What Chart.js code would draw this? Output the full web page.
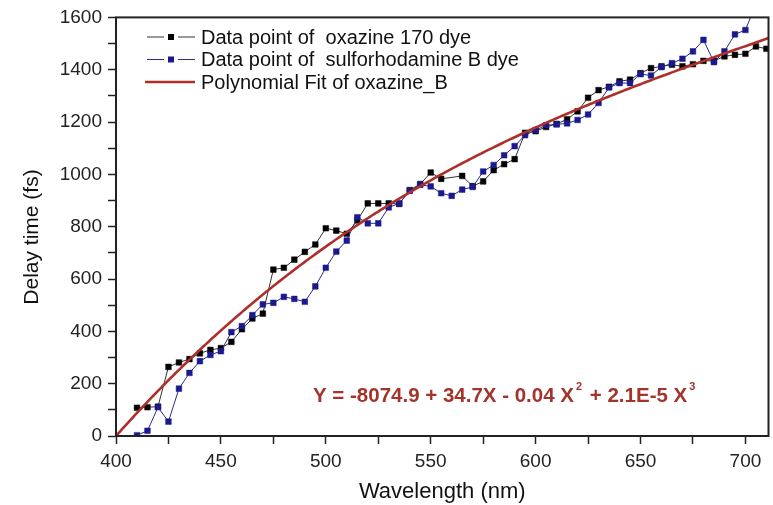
<!DOCTYPE html>
<html>
<head>
<meta charset="utf-8">
<script src="https://cdn.jsdelivr.net/npm/chart.js@4.4.0/dist/chart.umd.min.js"></script>
<style>
  html, body { margin: 0; padding: 0; background: #fff; }
  #wrap { width: 773px; height: 505px; }
</style>
</head>
<body>
<div id="wrap"><canvas id="delayChart" width="773" height="505"></canvas></div>
<script>
/* delay time vs wavelength for the two dyes + cubic fit */

const wavelengths = [
  410, 415, 420, 425, 430, 435, 440, 445, 450, 455,
  460, 465, 470, 475, 480, 485, 490, 495, 500, 505,
  510, 515, 520, 525, 530, 535, 540, 545, 550, 555,
  560, 565, 570, 575, 580, 585, 590, 595, 600, 605,
  610, 615, 620, 625, 630, 635, 640, 645, 650, 655,
  660, 665, 670, 675, 680, 685, 690, 695, 700, 705,
  710
];

// oxazine 170 (black)
const oxazineDelay = [
  108, 110, 112, 264, 281, 294, 316, 329, 336, 360,
  408, 449, 468, 636, 643, 674, 704, 732, 794, 785,
  773, 824, 889, 889, 889, 887, 940, 963, 1007, 983,
  null, 994, 955, 973, 1016, 1039, 1058, 1159, 1165, 1181,
  1193, 1210, 1241, 1293, 1322, 1335, 1356, 1362, 1387, 1406,
  1413, 1419, 1413, 1421, 1434, 1434, 1451, 1457, 1461, 1489,
  1480
];

// sulforhodamine B (blue)
const sulfoDelay = [
  3, 20, 110, 55, 181, 241, 286, 310, 324, 397,
  420, 462, 503, 509, 532, 524, 513, 572, 643, 705,
  747, 836, 813, 813, 874, 889, 937, 960, 954, 928,
  918, 942, 952, 1011, 1036, 1073, 1108, 1150, 1169, 1188,
  1191, 1195, 1208, 1229, 1273, 1332, 1349, 1349, 1383, 1378,
  1410, 1425, 1442, 1470, 1514, 1429, 1470, 1535, 1552, 1650,
  null
];

// Y = a + bX + cX^2 + dX^3
const fitCoefs = [-8074.9, 34.7, -0.04459, 2.077e-5];
const fitRange = [400, 711];

const xTicks = [400, 450, 500, 550, 600, 650, 700];
const yTicks = [0, 200, 400, 600, 800, 1000, 1200, 1400, 1600];

const legendLabels = [
  'Data point of  oxazine 170 dye',
  'Data point of  sulforhodamine B dye',
  'Polynomial Fit of oxazine_B'
];

const FONT = '"Liberation Sans", Arial, sans-serif';

function polyAt(x) {
  return fitCoefs.reduce((s, c, i) => s + c * Math.pow(x, i), 0);
}

const fitPoints = [];
for (let x = fitRange[0]; x <= fitRange[1]; x += 1) fitPoints.push({ x, y: polyAt(x) });

const toXY = (vals) => wavelengths.map((x, i) => ({ x, y: vals[i] }));

/* frame, legend, equation and the rotated y title */
const overlay = {
  id: 'overlay',
  afterDraw(chart) {
    const { ctx, chartArea: a } = chart;
    ctx.save();

    ctx.strokeStyle = '#222';
    ctx.lineWidth = 2;
    ctx.strokeRect(a.left, a.top, a.right - a.left, a.bottom - a.top);

    // legend
    const ds = chart.data.datasets;
    const order = [1, 2, 0];
    ctx.font = '20px ' + FONT;
    ctx.textBaseline = 'middle';
    order.forEach((di, row) => {
      const d = ds[di];
      const y = 37 + row * 22.5;
      if (d.pointRadius) {
        ctx.strokeStyle = d.borderColor;
        ctx.lineWidth = 1;
        ctx.beginPath();
        ctx.moveTo(147, y); ctx.lineTo(164, y);
        ctx.moveTo(178, y); ctx.lineTo(195, y);
        ctx.stroke();
        ctx.fillStyle = d.pointBackgroundColor;
        ctx.fillRect(168, y - 3, 6, 6);
      } else {
        ctx.strokeStyle = d.borderColor;
        ctx.lineWidth = d.borderWidth;
        ctx.beginPath();
        ctx.moveTo(145, y); ctx.lineTo(195, y);
        ctx.stroke();
      }
      ctx.fillStyle = '#111';
      ctx.fillText(d.label, 201, y + 1);
    });

    // fitted equation
    const parts = [
      ['Y = -8074.9 + 34.7X - 0.04 X', false],
      ['2', true],
      [' + 2.1E-5 X', false],
      ['3', true]
    ];
    let x = 313;
    const base = 402;
    ctx.fillStyle = '#a3342c';
    ctx.textBaseline = 'alphabetic';
    parts.forEach(([t, sup]) => {
      ctx.font = (sup ? 'bold 11px ' : 'bold 20.5px ') + FONT;
      ctx.fillText(t, x + (sup ? 2 : 0), sup ? base - 12 : base);
      x += ctx.measureText(t).width + (sup ? 4 : 0);
    });

    // y title
    ctx.translate(32, 237);
    ctx.rotate(-Math.PI / 2);
    ctx.font = '21px ' + FONT;
    ctx.fillStyle = '#111';
    ctx.textAlign = 'center';
    ctx.textBaseline = 'middle';
    ctx.fillText('Delay time (fs)', 0, 0);

    ctx.restore();
  }
};

new Chart(document.getElementById('delayChart'), {
  type: 'line',
  data: {
    datasets: [
      {
        label: legendLabels[2],
        data: fitPoints,
        borderColor: '#ad2f2a',
        borderWidth: 2.6,
        pointRadius: 0,
        tension: 0,
        order: 0
      },
      {
        label: legendLabels[0],
        data: toXY(oxazineDelay),
        borderColor: '#333',
        borderWidth: 1,
        pointStyle: 'rect',
        pointRadius: 4,
        pointBorderWidth: 0.5,
        pointBackgroundColor: '#000',
        pointBorderColor: '#000',
        spanGaps: true,
        tension: 0,
        order: 2
      },
      {
        label: legendLabels[1],
        data: toXY(sulfoDelay),
        borderColor: '#2c2c86',
        borderWidth: 1,
        pointStyle: 'rect',
        pointRadius: 4,
        pointBorderWidth: 0.5,
        pointBackgroundColor: '#1a1a8e',
        pointBorderColor: '#1a1a8e',
        tension: 0,
        order: 1
      }
    ]
  },
  options: {
    responsive: false,
    animation: false,
    layout: { padding: { top: 15, right: 3, left: 0, bottom: 0 } },
    plugins: { legend: { display: false }, tooltip: { enabled: false } },
    scales: {
      x: {
        type: 'linear',
        min: fitRange[0],
        max: fitRange[1],
        afterFit: (s) => { s.height = 69; },
        ticks: {
          stepSize: 25,
          includeBounds: false,
          maxRotation: 0,
          autoSkip: false,
          padding: 6,
          color: '#222',
          font: { family: FONT, size: 19 },
          callback: (v) => (xTicks.includes(v) ? v : '')
        },
        grid: { drawOnChartArea: false, drawTicks: true, tickLength: 8, tickColor: '#222', tickWidth: 1.5 },
        border: { display: false },
        title: {
          display: true,
          text: 'Wavelength (nm)',
          color: '#111',
          font: { family: FONT, size: 22 },
          padding: { top: 0, bottom: 0 }
        }
      },
      y: {
        min: yTicks[0],
        max: yTicks[yTicks.length - 1],
        afterFit: (s) => { s.width = 116; },
        ticks: {
          stepSize: 100,
          autoSkip: false,
          padding: 6,
          color: '#222',
          font: { family: FONT, size: 19 },
          callback: (v) => (yTicks.includes(v) ? v : '')
        },
        grid: { drawOnChartArea: false, drawTicks: true, tickLength: 8, tickColor: '#222', tickWidth: 1.5 },
        border: { display: false }
      }
    }
  },
  plugins: [overlay]
});
</script>
</body>
</html>
